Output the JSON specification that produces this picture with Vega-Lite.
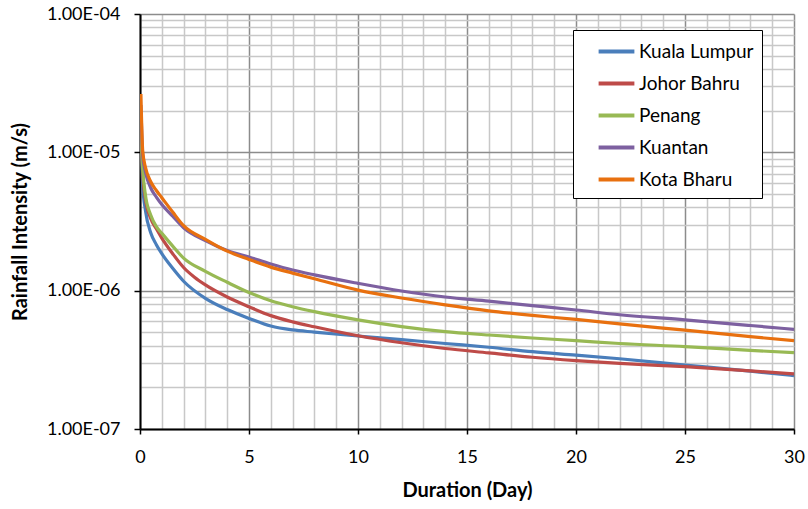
{
  "$schema": "https://vega.github.io/schema/vega-lite/v6.json",
  "width": 654,
  "height": 415,
  "autosize": {"type": "none"},
  "padding": {"left": 140, "top": 14, "right": 14, "bottom": 80},
  "background": "white",
  "config": {
    "font": "Lato",
    "view": {"stroke": null},
    "axis": {"labelFont": "Lato", "titleFont": "Lato"},
    "legend": {"labelFont": "Lato"}
  },
  "datasets": {
    "curves": [
      {"city": "Kuala Lumpur", "day": 0.0417, "i": 1.6e-5},
      {"city": "Kuala Lumpur", "day": 0.125, "i": 5.8e-6},
      {"city": "Kuala Lumpur", "day": 0.25, "i": 3.8e-6},
      {"city": "Kuala Lumpur", "day": 0.5, "i": 2.6e-6},
      {"city": "Kuala Lumpur", "day": 0.75, "i": 2.15e-6},
      {"city": "Kuala Lumpur", "day": 1, "i": 1.85e-6},
      {"city": "Kuala Lumpur", "day": 1.5, "i": 1.45e-6},
      {"city": "Kuala Lumpur", "day": 2, "i": 1.17e-6},
      {"city": "Kuala Lumpur", "day": 3, "i": 0.88e-6},
      {"city": "Kuala Lumpur", "day": 4, "i": 0.73e-6},
      {"city": "Kuala Lumpur", "day": 5, "i": 0.63e-6},
      {"city": "Kuala Lumpur", "day": 6, "i": 0.555e-6},
      {"city": "Kuala Lumpur", "day": 7, "i": 0.52e-6},
      {"city": "Kuala Lumpur", "day": 8, "i": 0.502e-6},
      {"city": "Kuala Lumpur", "day": 10, "i": 0.47e-6},
      {"city": "Kuala Lumpur", "day": 12, "i": 0.443e-6},
      {"city": "Kuala Lumpur", "day": 14, "i": 0.415e-6},
      {"city": "Kuala Lumpur", "day": 16, "i": 0.39e-6},
      {"city": "Kuala Lumpur", "day": 18, "i": 0.362e-6},
      {"city": "Kuala Lumpur", "day": 20, "i": 0.342e-6},
      {"city": "Kuala Lumpur", "day": 22, "i": 0.322e-6},
      {"city": "Kuala Lumpur", "day": 25, "i": 0.29e-6},
      {"city": "Kuala Lumpur", "day": 28, "i": 0.262e-6},
      {"city": "Kuala Lumpur", "day": 30, "i": 0.243e-6},

      {"city": "Johor Bahru", "day": 0.0417, "i": 1.5e-5},
      {"city": "Johor Bahru", "day": 0.125, "i": 7.0e-6},
      {"city": "Johor Bahru", "day": 0.25, "i": 4.6e-6},
      {"city": "Johor Bahru", "day": 0.5, "i": 3.3e-6},
      {"city": "Johor Bahru", "day": 0.75, "i": 2.8e-6},
      {"city": "Johor Bahru", "day": 1, "i": 2.4e-6},
      {"city": "Johor Bahru", "day": 1.5, "i": 1.85e-6},
      {"city": "Johor Bahru", "day": 2, "i": 1.47e-6},
      {"city": "Johor Bahru", "day": 2.5, "i": 1.25e-6},
      {"city": "Johor Bahru", "day": 3, "i": 1.1e-6},
      {"city": "Johor Bahru", "day": 4, "i": 0.9e-6},
      {"city": "Johor Bahru", "day": 5, "i": 0.765e-6},
      {"city": "Johor Bahru", "day": 6, "i": 0.66e-6},
      {"city": "Johor Bahru", "day": 7, "i": 0.595e-6},
      {"city": "Johor Bahru", "day": 8, "i": 0.548e-6},
      {"city": "Johor Bahru", "day": 10, "i": 0.472e-6},
      {"city": "Johor Bahru", "day": 12, "i": 0.42e-6},
      {"city": "Johor Bahru", "day": 14, "i": 0.382e-6},
      {"city": "Johor Bahru", "day": 16, "i": 0.355e-6},
      {"city": "Johor Bahru", "day": 18, "i": 0.33e-6},
      {"city": "Johor Bahru", "day": 20, "i": 0.312e-6},
      {"city": "Johor Bahru", "day": 22, "i": 0.298e-6},
      {"city": "Johor Bahru", "day": 25, "i": 0.282e-6},
      {"city": "Johor Bahru", "day": 28, "i": 0.263e-6},
      {"city": "Johor Bahru", "day": 30, "i": 0.25e-6},

      {"city": "Penang", "day": 0.0417, "i": 1.4e-5},
      {"city": "Penang", "day": 0.125, "i": 7.5e-6},
      {"city": "Penang", "day": 0.25, "i": 4.9e-6},
      {"city": "Penang", "day": 0.5, "i": 3.5e-6},
      {"city": "Penang", "day": 0.75, "i": 2.9e-6},
      {"city": "Penang", "day": 1, "i": 2.6e-6},
      {"city": "Penang", "day": 1.5, "i": 2.1e-6},
      {"city": "Penang", "day": 2, "i": 1.72e-6},
      {"city": "Penang", "day": 3, "i": 1.38e-6},
      {"city": "Penang", "day": 4, "i": 1.15e-6},
      {"city": "Penang", "day": 5, "i": 0.97e-6},
      {"city": "Penang", "day": 6, "i": 0.845e-6},
      {"city": "Penang", "day": 7, "i": 0.765e-6},
      {"city": "Penang", "day": 8, "i": 0.705e-6},
      {"city": "Penang", "day": 10, "i": 0.615e-6},
      {"city": "Penang", "day": 12, "i": 0.55e-6},
      {"city": "Penang", "day": 14, "i": 0.505e-6},
      {"city": "Penang", "day": 16, "i": 0.478e-6},
      {"city": "Penang", "day": 18, "i": 0.455e-6},
      {"city": "Penang", "day": 20, "i": 0.435e-6},
      {"city": "Penang", "day": 22, "i": 0.415e-6},
      {"city": "Penang", "day": 25, "i": 0.394e-6},
      {"city": "Penang", "day": 28, "i": 0.37e-6},
      {"city": "Penang", "day": 30, "i": 0.356e-6},

      {"city": "Kuantan", "day": 0.0417, "i": 2.2e-5},
      {"city": "Kuantan", "day": 0.125, "i": 9.5e-6},
      {"city": "Kuantan", "day": 0.25, "i": 7.2e-6},
      {"city": "Kuantan", "day": 0.5, "i": 5.5e-6},
      {"city": "Kuantan", "day": 0.75, "i": 4.75e-6},
      {"city": "Kuantan", "day": 1, "i": 4.2e-6},
      {"city": "Kuantan", "day": 1.5, "i": 3.45e-6},
      {"city": "Kuantan", "day": 2, "i": 2.85e-6},
      {"city": "Kuantan", "day": 3, "i": 2.3e-6},
      {"city": "Kuantan", "day": 4, "i": 1.95e-6},
      {"city": "Kuantan", "day": 5, "i": 1.75e-6},
      {"city": "Kuantan", "day": 6, "i": 1.56e-6},
      {"city": "Kuantan", "day": 7, "i": 1.41e-6},
      {"city": "Kuantan", "day": 8, "i": 1.3e-6},
      {"city": "Kuantan", "day": 10, "i": 1.13e-6},
      {"city": "Kuantan", "day": 12, "i": 0.995e-6},
      {"city": "Kuantan", "day": 14, "i": 0.9e-6},
      {"city": "Kuantan", "day": 16, "i": 0.84e-6},
      {"city": "Kuantan", "day": 18, "i": 0.78e-6},
      {"city": "Kuantan", "day": 20, "i": 0.725e-6},
      {"city": "Kuantan", "day": 22, "i": 0.67e-6},
      {"city": "Kuantan", "day": 25, "i": 0.615e-6},
      {"city": "Kuantan", "day": 28, "i": 0.56e-6},
      {"city": "Kuantan", "day": 30, "i": 0.525e-6},

      {"city": "Kota Bharu", "day": 0.0417, "i": 2.64e-5},
      {"city": "Kota Bharu", "day": 0.125, "i": 1.02e-5},
      {"city": "Kota Bharu", "day": 0.25, "i": 7.8e-6},
      {"city": "Kota Bharu", "day": 0.5, "i": 6.1e-6},
      {"city": "Kota Bharu", "day": 0.75, "i": 5.3e-6},
      {"city": "Kota Bharu", "day": 1, "i": 4.7e-6},
      {"city": "Kota Bharu", "day": 1.5, "i": 3.7e-6},
      {"city": "Kota Bharu", "day": 2, "i": 2.95e-6},
      {"city": "Kota Bharu", "day": 3, "i": 2.35e-6},
      {"city": "Kota Bharu", "day": 4, "i": 1.93e-6},
      {"city": "Kota Bharu", "day": 5, "i": 1.68e-6},
      {"city": "Kota Bharu", "day": 6, "i": 1.48e-6},
      {"city": "Kota Bharu", "day": 7, "i": 1.34e-6},
      {"city": "Kota Bharu", "day": 8, "i": 1.22e-6},
      {"city": "Kota Bharu", "day": 10, "i": 1.01e-6},
      {"city": "Kota Bharu", "day": 12, "i": 0.885e-6},
      {"city": "Kota Bharu", "day": 14, "i": 0.79e-6},
      {"city": "Kota Bharu", "day": 16, "i": 0.715e-6},
      {"city": "Kota Bharu", "day": 18, "i": 0.662e-6},
      {"city": "Kota Bharu", "day": 20, "i": 0.62e-6},
      {"city": "Kota Bharu", "day": 22, "i": 0.575e-6},
      {"city": "Kota Bharu", "day": 25, "i": 0.518e-6},
      {"city": "Kota Bharu", "day": 28, "i": 0.465e-6},
      {"city": "Kota Bharu", "day": 30, "i": 0.435e-6}
    ]
  },
  "data": {"name": "curves"},
  "mark": {"type": "line", "interpolate": "monotone", "strokeWidth": 3.2, "clip": true},
  "encoding": {
    "x": {
      "field": "day",
      "type": "quantitative",
      "scale": {"domain": [0, 30], "nice": false, "zero": false},
      "axis": {
        "title": "Duration (Day)",
        "titleFontSize": 20,
        "titleFontWeight": "bold",
        "titleColor": "black",
        "titlePadding": 14,
        "values": [0,1,2,3,4,5,6,7,8,9,10,11,12,13,14,15,16,17,18,19,20,21,22,23,24,25,26,27,28,29,30],
        "labelExpr": "datum.value % 5 === 0 ? datum.label : ''",
        "labelFontSize": 18,
        "labelColor": "black",
        "labelPadding": 14,
        "labelFlush": false,
        "labelOverlap": false,
        "domainColor": "black",
        "domainWidth": 2,
        "tickColor": "black",
        "tickSize": 5,
        "tickWidth": 1.5,
        "tickOpacity": {"condition": {"test": "datum.value % 5 === 0", "value": 1}, "value": 0},
        "grid": true,
        "gridColor": {"condition": {"test": "datum.value % 5 === 0", "value": "#8c8c8c"}, "value": "#c8c8c8"},
        "gridWidth": 1.5,
        "gridOpacity": 1
      }
    },
    "y": {
      "field": "i",
      "type": "quantitative",
      "scale": {"type": "log", "domain": [1e-7, 1e-4], "nice": false},
      "axis": {
        "title": "Rainfall Intensity (m/s)",
        "titleFontSize": 20,
        "titleFontWeight": "bold",
        "titleColor": "black",
        "titlePadding": 16,
        "values": [1e-7,2e-7,3e-7,4e-7,5e-7,6e-7,7e-7,8e-7,9e-7,1e-6,2e-6,3e-6,4e-6,5e-6,6e-6,7e-6,8e-6,9e-6,1e-5,2e-5,3e-5,4e-5,5e-5,6e-5,7e-5,8e-5,9e-5,1e-4],
        "labelExpr": "abs(log(datum.value)/LN10 - round(log(datum.value)/LN10)) < 0.01 ? '1.00E-0' + (-round(log(datum.value)/LN10)) : ''",
        "labelFontSize": 18,
        "labelColor": "black",
        "labelPadding": 14,
        "labelFlush": false,
        "labelOverlap": false,
        "domainColor": "black",
        "domainWidth": 2,
        "tickColor": "black",
        "tickSize": 6,
        "tickWidth": 1.5,
        "tickOpacity": {"condition": {"test": "abs(log(datum.value)/LN10 - round(log(datum.value)/LN10)) < 0.01", "value": 1}, "value": 0},
        "grid": true,
        "gridColor": {"condition": {"test": "abs(log(datum.value)/LN10 - round(log(datum.value)/LN10)) < 0.01", "value": "#8c8c8c"}, "value": "#c8c8c8"},
        "gridWidth": 1.5,
        "gridOpacity": 1
      }
    },
    "color": {
      "field": "city",
      "type": "nominal",
      "sort": ["Kuala Lumpur", "Johor Bahru", "Penang", "Kuantan", "Kota Bharu"],
      "scale": {
        "domain": ["Kuala Lumpur", "Johor Bahru", "Penang", "Kuantan", "Kota Bharu"],
        "range": ["#4a7ebb", "#be4b48", "#98b954", "#7d60a0", "#e8700f"]
      },
      "legend": {
        "title": null,
        "orient": "none",
        "legendX": 433,
        "legendY": 16,
        "symbolType": "M-1.6,0H1.6",
        "symbolSize": 500,
        "symbolStrokeWidth": 4,
        "symbolOffset": 22,
        "labelFontSize": 19,
        "labelLimit": 400,
        "labelColor": "black",
        "labelOffset": 9,
        "labelExpr": "datum.label + '\u00a0\u00a0\u00a0\u00a0\u00a0\u00a0\u00a0\u00a0\u00a0\u00a0'",
        "rowPadding": 8,
        "padding": 8,
        "strokeColor": "black",
        "fillColor": "white"
      }
    },
    "order": {"field": "day"}
  }
}
